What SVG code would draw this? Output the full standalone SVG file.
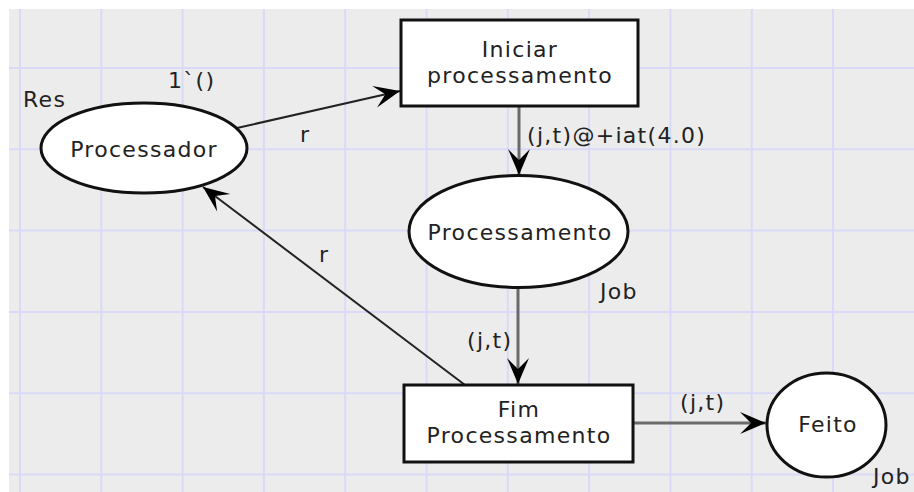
<svg xmlns="http://www.w3.org/2000/svg" width="914" height="492" viewBox="0 0 914 492">
<defs>
<style>
text{font-family:"DejaVu Sans","Liberation Sans",sans-serif;font-size:22px;fill:#222;letter-spacing:1.3px}
.c{text-anchor:middle}
.node{fill:#fff;stroke:#111;stroke-width:3}
.grid{stroke:#dadaf8;stroke-width:2}
.arcG{fill:none;stroke:#6a6a6a;stroke-width:3}
.arcB{fill:none;stroke:#222;stroke-width:2}
</style>
<marker id="ah" markerUnits="userSpaceOnUse" viewBox="-27 -12 29 24" refX="0" refY="0" markerWidth="29" markerHeight="24" orient="auto">
<path d="M0,0 L-26,-11 L-15,0 L-26,11 Z" fill="#000"/>
</marker>
</defs>
<rect x="0" y="0" width="914" height="492" fill="#fff"/>
<rect x="9" y="9" width="905" height="483" fill="#ececec"/>
<g id="grid" class="grid">
<line x1="20" y1="9" x2="20" y2="492"/>
<line x1="101.3" y1="9" x2="101.3" y2="492"/>
<line x1="182.6" y1="9" x2="182.6" y2="492"/>
<line x1="263.9" y1="9" x2="263.9" y2="492"/>
<line x1="345.2" y1="9" x2="345.2" y2="492"/>
<line x1="426.5" y1="9" x2="426.5" y2="492"/>
<line x1="507.8" y1="9" x2="507.8" y2="492"/>
<line x1="589.1" y1="9" x2="589.1" y2="492"/>
<line x1="670.4" y1="9" x2="670.4" y2="492"/>
<line x1="751.7" y1="9" x2="751.7" y2="492"/>
<line x1="833" y1="9" x2="833" y2="492"/>
<line x1="9" y1="68" x2="914" y2="68"/>
<line x1="9" y1="149.3" x2="914" y2="149.3"/>
<line x1="9" y1="230.6" x2="914" y2="230.6"/>
<line x1="9" y1="311.9" x2="914" y2="311.9"/>
<line x1="9" y1="393.2" x2="914" y2="393.2"/>
<line x1="9" y1="474.5" x2="914" y2="474.5"/>
</g>
<g id="connectors">
<line class="arcB" x1="237" y1="128" x2="400" y2="91" marker-end="url(#ah)"/>
<line class="arcG" x1="519" y1="106" x2="519" y2="175" marker-end="url(#ah)"/>
<line class="arcG" x1="518" y1="288" x2="518" y2="384" marker-end="url(#ah)"/>
<line class="arcB" x1="465" y1="385" x2="203" y2="187" marker-end="url(#ah)"/>
<line class="arcG" x1="633" y1="423" x2="766" y2="423" marker-end="url(#ah)"/>
<text x="300" y="142">r</text>
<text x="319" y="262">r</text>
<text x="527" y="143">(j,t)@+iat(4.0)</text>
<text x="467" y="348">(j,t)</text>
<text x="680" y="410">(j,t)</text>
</g>
<g id="Processador">
<ellipse class="node" cx="144" cy="148" rx="103" ry="45"/>
<text class="c" x="144" y="157">Processador</text>
<text x="23" y="107">Res</text>
<text x="168" y="88">1`()</text>
</g>
<g id="IniciarProcessamento">
<rect class="node" x="401" y="20" width="237" height="86"/>
<text class="c" x="520" y="57">Iniciar</text>
<text class="c" x="520" y="83">processamento</text>
</g>
<g id="Processamento">
<ellipse class="node" cx="518.5" cy="231.5" rx="109.5" ry="56"/>
<text class="c" x="520" y="240">Processamento</text>
<text x="600" y="299">Job</text>
</g>
<g id="FimProcessamento">
<rect class="node" x="404" y="385" width="229" height="77"/>
<text class="c" x="519" y="417">Fim</text>
<text class="c" x="519" y="443">Processamento</text>
</g>
<g id="Feito">
<ellipse class="node" cx="826.5" cy="425" rx="59.5" ry="52"/>
<text class="c" x="828" y="432">Feito</text>
<text x="873" y="484">Job</text>
</g>
</svg>
